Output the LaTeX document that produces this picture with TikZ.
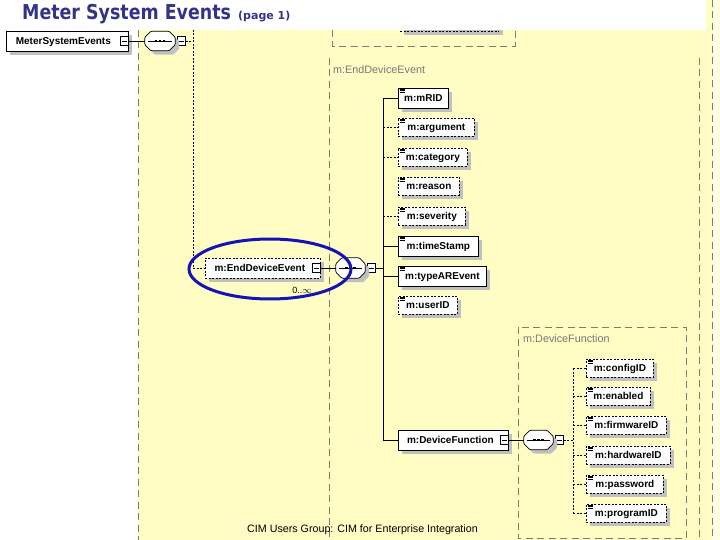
\documentclass[tikz,border=0pt]{standalone}
\usepackage{fontspec}
\setmainfont{Liberation Sans}
\newfontfamily\titlefont{DejaVu Sans}
\usetikzlibrary{shadows,calc}
\definecolor{bgyellow}{RGB}{255,252,196}
\definecolor{paleyellow}{RGB}{255,254,226}
\definecolor{grpgray}{RGB}{125,125,105}
\definecolor{titleblue}{RGB}{51,51,140}
\definecolor{shadowgray}{RGB}{192,192,192}
\definecolor{ringblue}{RGB}{20,20,180}
\definecolor{labelgray}{RGB}{120,120,120}
\tikzset{
  elem/.style={draw=black, line width=0.75pt, fill=white, anchor=west,
    inner xsep=1pt, inner ysep=0pt, minimum height=20pt, minimum width=#1,
    text height=8pt, text depth=0.8pt,
    font=\bfseries\fontsize{10}{11}\selectfont,
    drop shadow={shadow xshift=4pt, shadow yshift=-4pt, fill=shadowgray, opacity=1}},
  optelem/.style={elem=#1, dash pattern=on 2pt off 1.5pt, minimum height=18pt},
  expsq/.style={draw=black, line width=0.6pt, fill=white, minimum width=8pt,
    minimum height=9pt, inner sep=0pt,
    path picture={\draw[line width=0.6pt] ([xshift=1.6pt]path picture bounding box.west) -- ([xshift=-1.6pt]path picture bounding box.east);}},
  compbox/.style={minimum width=#1, minimum height=19pt, inner sep=0pt},
  conn/.style={draw=black, line width=0.75pt},
  optconn/.style={draw=black, line width=0.75pt, dash pattern=on 2pt off 1.5pt},
  grp/.style={draw=grpgray, line width=0.7pt, dash pattern=on 7pt off 4.5pt},
  grplabel/.style={anchor=west, text=labelgray, font=\fontsize{10.8}{12}\selectfont, inner sep=0pt},
}
\newcommand\octpath[2]{($(#1.north west)+(6+#2,#2)$) -- ($(#1.north east)+(-6+#2,#2)$) -- ($(#1.north east)+(#2,6+#2)$) -- ($(#1.south east)+(#2,-6+#2)$) -- ($(#1.south east)+(-6+#2,#2)$) -- ($(#1.south west)+(6+#2,#2)$) -- ($(#1.south west)+(#2,-6+#2)$) -- ($(#1.north west)+(#2,6+#2)$) -- cycle}
\newcommand\seqcomp[1]{%
  \fill[shadowgray, rounded corners=1pt] \octpath{#1}{4};
  \draw[line width=0.75pt, fill=white, rounded corners=1pt] \octpath{#1}{0};
  \draw[line width=0.75pt] ($(#1.west)+(3,0)$) -- ($(#1.east)+(-3,0)$);
  \foreach \dx in {-4,0,4} \fill ($(#1.center)+(\dx-1.4,-1.4)$) rectangle +(2.8,2.8);
}
\newcommand\simpleicon[1]{%
  \foreach \k in {1.3,2.8,4.3} \draw[line width=0.5pt] ($(#1.north west)+(1.5,\k)$) -- ++(5,0);
}
\begin{document}
\begin{tikzpicture}[x=1pt, y=-1pt]
\useasboundingbox (0,0) rectangle (720,540);
% backgrounds
\fill[white] (0,0) rectangle (720,540);
\fill[bgyellow] (138,0) rectangle (720,540);
\fill[paleyellow] (712,0) rectangle (720,540);
\fill[white] (0,0) rectangle (706,30);
% group boxes
\draw[grp] (138,30) -- (138,540);
\draw[grp] (712,0) -- (712,540);
\draw[grp] (329,58) -- (329,540);
\draw[grp] (699,58) -- (699,540);
\draw[grp] (332,30) -- (332,46) -- (515,46) -- (515,30);
\draw[grp] (518,327) rectangle (686,538);
% partly hidden element above
\fill[shadowgray] (404,30) rectangle (503,35.5);
\draw[optconn] (400,31.5) -- (499,31.5);
% group labels
\node[grplabel] (gEDE) at (333,70) {m:EndDeviceEvent};
\node[grplabel] (gDF) at (523,339) {m:DeviceFunction};
% title
\node[anchor=base west, inner sep=0pt, text=titleblue,
  font=\titlefont\bfseries\fontsize{20.5}{24}\selectfont] (title) at (22,20) {\scalebox{0.85}[1]{Meter System Events}};
\node[anchor=base west, inner sep=0pt, text=titleblue,
  font=\titlefont\bfseries\fontsize{11}{13}\selectfont] (page) at (238,20) {(page 1)};
% root
\node[elem=122pt] (mse) at (6,41) {MeterSystemEvents\hspace*{8pt}};
\node[expsq, anchor=east] (msesq) at (mse.east) {};
\node[compbox=30pt] (c1) at (160,41) {};
\node[expsq, anchor=west] (c1sq) at ([xshift=2pt]c1.east) {};
% EndDeviceEvent
\node[optelem=115pt, minimum height=20pt] (ede) at (205,268) {m:EndDeviceEvent\hspace*{6pt}};
\node[expsq, anchor=east] (edesq) at (ede.east) {};
\node[inner sep=0pt, font=\fontsize{9}{10}\selectfont] (edemult) at (302,290) {0..$\infty$};
\node[compbox=29pt, minimum height=20pt] (c2) at (350.5,268) {};
\node[expsq, anchor=west] (c2sq) at ([xshift=2pt]c2.east) {};
% children
\node[elem=50pt] (mrid) at (398,98) {m:mRID};
\node[optelem=76pt] (argument) at (398,127) {m:argument};
\node[optelem=69pt] (category) at (398,157) {m:category};
\node[optelem=61pt] (reason) at (398,186) {m:reason};
\node[optelem=67pt] (severity) at (398,216) {m:severity};
\node[elem=80pt] (timestamp) at (398,246) {m:timeStamp};
\node[elem=88pt] (typearevent) at (398,276) {m:typeAREvent};
\node[optelem=59pt] (userid) at (398,305) {m:userID};
\node[elem=110pt] (devf) at (398,440) {m:DeviceFunction\hspace*{6pt}};
\node[expsq, anchor=east] (devfsq) at (devf.east) {};
\node[compbox=29pt] (c3) at (538.5,440) {};
\node[expsq, anchor=west] (c3sq) at ([xshift=2pt]c3.east) {};
% DeviceFunction children
\node[optelem=67pt] (configid) at (586,368) {m:configID};
\node[optelem=64pt] (enabled) at (586,396) {m:enabled};
\node[optelem=80pt] (firmwareid) at (586,425) {m:firmwareID};
\node[optelem=84pt] (hardwareid) at (586,455) {m:hardwareID};
\node[optelem=77pt] (password) at (586,484) {m:password};
\node[optelem=80pt] (programid) at (586,513) {m:programID};
% icons
\foreach \n in {mrid,argument,category,reason,severity,timestamp,typearevent,userid,configid,enabled,firmwareid,hardwareid,password,programid} {\simpleicon{\n}}
% connectors root
\draw[conn] (msesq.east) -- (c1.west);
\draw[conn] (c1.east) -- (c1sq.west);
\coordinate (j1top) at (193,30);
\coordinate (j1bot) at (193,268);
\draw[optconn] (c1sq.east) -- (c1sq.east -| j1top);
\draw[optconn] (j1top) -- (j1bot);
\draw[optconn] (j1bot) -- (ede.west);
% connectors EndDeviceEvent
\draw[conn] (edesq.east) -- (c2.west);
\draw[conn] (c2.east) -- (c2sq.west);
\coordinate (j2) at (383,268);
\draw[conn] (c2sq.east) -- (j2);
\draw[conn] (j2 |- mrid.west) -- (j2 |- devf.west);
\foreach \n in {mrid,timestamp,typearevent,devf} \draw[conn] (j2 |- \n.west) -- (\n.west);
\foreach \n in {argument,category,severity} \draw[optconn] (j2 |- \n.west) -- (\n.west);
% connectors DeviceFunction
\draw[conn] (devfsq.east) -- (c3.west);
\draw[conn] (c3.east) -- (c3sq.west);
\coordinate (j3) at (573,440);
\draw[optconn] (c3sq.east) -- (j3);
\draw[optconn] (j3 |- configid.west) -- (j3 |- programid.west);
\foreach \n in {configid,enabled,firmwareid,hardwareid,password,programid} \draw[optconn] (j3 |- \n.west) -- (\n.west);
% compositors
\seqcomp{c1}
\seqcomp{c2}
\seqcomp{c3}
% highlight ring
\draw[ringblue, line width=3pt] (270,269) ellipse [x radius=81, y radius=30];
% footer
\node[inner sep=0pt, font=\fontsize{10.7}{12}\selectfont] (footer) at (362.5,530) {CIM Users Group: CIM for Enterprise Integration};
\end{tikzpicture}
\end{document}
